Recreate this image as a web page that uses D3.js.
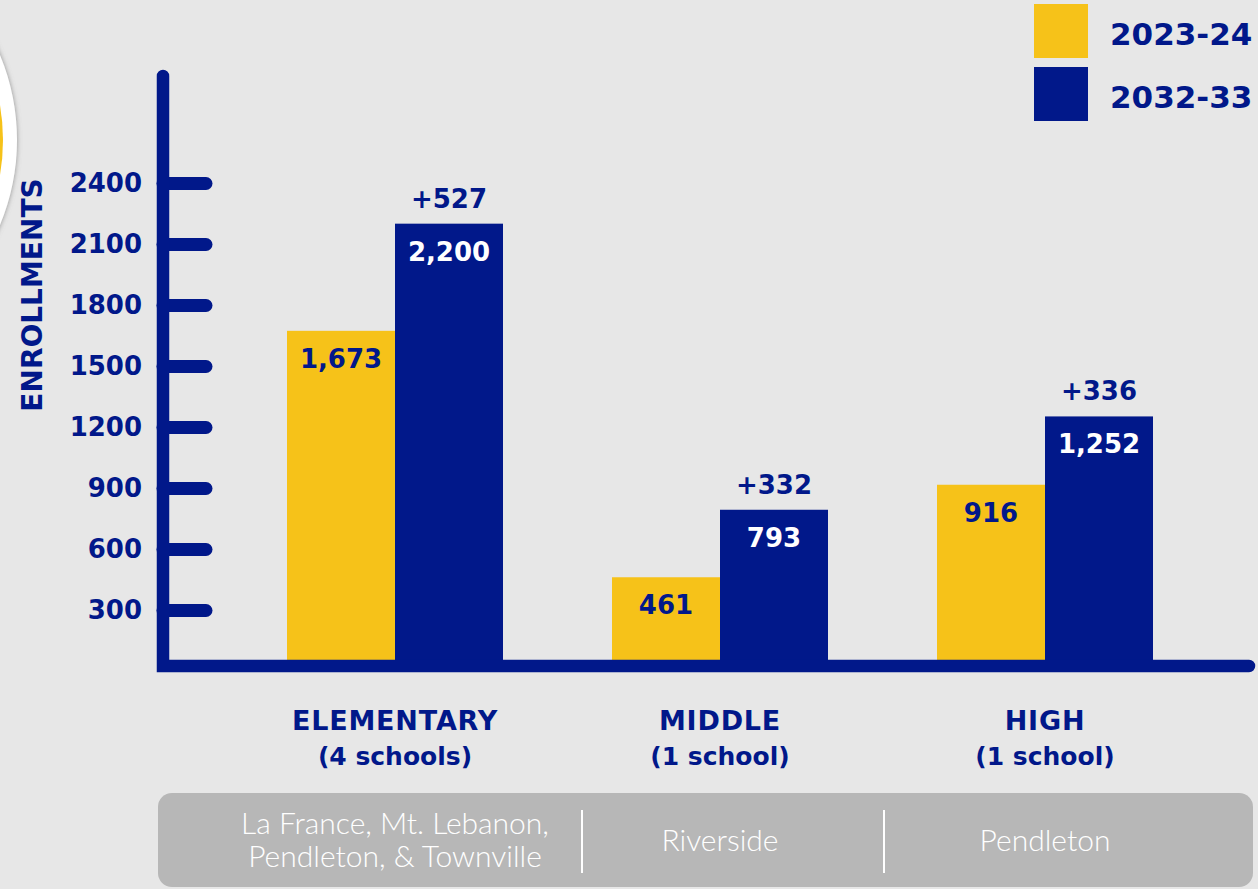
<!DOCTYPE html>
<html>
<head>
<meta charset="utf-8">
<script src="https://cdn.jsdelivr.net/npm/d3@7"></script>
<style>
  html, body { margin: 0; padding: 0; background: #e7e7e7; }
  svg { display: block; }
</style>
</head>
<body>
<svg id="chart" width="1258" height="889"></svg>
<script>
// données
var categories = ["ELEMENTARY", "MIDDLE", "HIGH"];
var subLabels = ["(4 schools)", "(1 school)", "(1 school)"];
var schools = [["La France, Mt. Lebanon,", "Pendleton, & Townville"], ["Riverside"], ["Pendleton"]];
var series = ["2023-24", "2032-33"];
var values2023 = [1673, 461, 916];
var values2032 = [2200, 793, 1252];
var changes = ["+527", "+332", "+336"];
var yTicks = [300, 600, 900, 1200, 1500, 1800, 2100, 2400];

var navy = "#01188a";
var yellow = "#f6c219";
var bold = "'DejaVu Sans', sans-serif";

var svg = d3.select("#chart");

// fond
svg.append("rect").attr("width", 1258).attr("height", 889).attr("fill", "#e7e7e7");

// cercle décoratif en haut à gauche
var defs = svg.append("defs");
var f = defs.append("filter").attr("id", "shadow").attr("x", "-20%").attr("y", "-20%").attr("width", "140%").attr("height", "140%");
f.append("feDropShadow").attr("dx", 0).attr("dy", 0).attr("stdDeviation", 2.5).attr("flood-color", "#777").attr("flood-opacity", 0.8);
svg.append("circle").attr("cx", -204).attr("cy", 140).attr("r", 221)
  .attr("fill", "#ffffff").attr("filter", "url(#shadow)");
svg.append("circle").attr("cx", -204).attr("cy", 140).attr("r", 207).attr("fill", yellow);

// échelles
var y = d3.scaleLinear().domain([0, 2400]).range([671, 183]);
var x = d3.scaleBand().domain(categories).range([232.5, 1207.5]).padding(0);
var xSub = d3.scaleBand().domain(series).range([-108, 108]).padding(0);
var color = d3.scaleOrdinal().domain(series).range([yellow, navy]);

var groups = svg.append("g").attr("class", "bars")
  .selectAll("g")
  .data(categories)
  .enter()
  .append("g")
  .attr("transform", function(d) { return "translate(" + (x(d) + x.bandwidth() / 2) + ",0)"; });

var rows = categories.map(function(c, i) {
  return [
    { key: series[0], value: values2023[i] },
    { key: series[1], value: values2032[i] }
  ];
});

groups.selectAll("rect")
  .data(function(d, i) { return rows[i]; })
  .enter()
  .append("rect")
  .attr("x", function(d) { return xSub(d.key); })
  .attr("width", xSub.bandwidth())
  .attr("y", function(d) { return y(d.value); })
  .attr("height", function(d) { return y(0) - y(d.value); })
  .attr("fill", function(d) { return color(d.key); });

// valeurs dans les barres
groups.selectAll("text.val")
  .data(function(d, i) { return rows[i]; })
  .enter()
  .append("text")
  .attr("class", "val")
  .attr("x", function(d) { return xSub(d.key) + xSub.bandwidth() / 2; })
  .attr("y", function(d) { return y(d.value) + 37; })
  .attr("text-anchor", "middle")
  .attr("font-family", bold)
  .attr("font-weight", "bold")
  .attr("font-size", "26px")
  .attr("fill", function(d) { return d.key === series[0] ? navy : "#ffffff"; })
  .text(function(d) { return d3.format(",")(d.value); });

// variation au-dessus de la barre bleue
groups.append("text")
  .attr("x", function() { return xSub(series[1]) + xSub.bandwidth() / 2; })
  .attr("y", function(d, i) { return y(values2032[i]) - 16; })
  .attr("text-anchor", "middle")
  .attr("font-family", bold)
  .attr("font-weight", "bold")
  .attr("font-size", "26px")
  .attr("fill", navy)
  .text(function(d, i) { return changes[i]; });

// libellés des catégories
groups.append("text")
  .attr("y", 730)
  .attr("text-anchor", "middle")
  .attr("font-family", bold)
  .attr("font-weight", "bold")
  .attr("font-size", "27px")
  .attr("letter-spacing", "0.8px")
  .attr("fill", navy)
  .text(function(d) { return d; });

groups.append("text")
  .attr("y", 765)
  .attr("text-anchor", "middle")
  .attr("font-family", bold)
  .attr("font-weight", "bold")
  .attr("font-size", "25px")
  .attr("fill", navy)
  .text(function(d, i) { return subLabels[i]; });

// axe Y
var yAxis = d3.axisLeft(y)
  .tickValues(yTicks)
  .tickSizeInner(-43)
  .tickSizeOuter(0)
  .tickPadding(21)
  .tickFormat(d3.format("d"));

var axisG = svg.append("g")
  .attr("transform", "translate(163,0)")
  .call(yAxis);
axisG.select(".domain").remove();
axisG.selectAll(".tick line")
  .attr("stroke", navy)
  .attr("stroke-width", 13)
  .attr("stroke-linecap", "round");
axisG.selectAll(".tick text")
  .attr("fill", navy)
  .attr("font-family", bold)
  .attr("font-weight", "bold")
  .attr("font-size", "26px");

// lignes des axes
svg.append("path")
  .attr("d", "M163,76 V666 H1249")
  .attr("fill", "none")
  .attr("stroke", navy)
  .attr("stroke-width", 12.5)
  .attr("stroke-linecap", "round")
  .attr("stroke-linejoin", "miter");

// titre de l'axe
svg.append("text")
  .attr("transform", "translate(42,295) rotate(-90)")
  .attr("text-anchor", "middle")
  .attr("font-family", bold)
  .attr("font-weight", "bold")
  .attr("font-size", "28px")
  .attr("fill", navy)
  .text("ENROLLMENTS");

// légende
var legend = svg.append("g").selectAll("g")
  .data(series)
  .enter()
  .append("g")
  .attr("transform", function(d, i) { return "translate(1034," + (4 + i * 63) + ")"; });
legend.append("rect")
  .attr("width", 54)
  .attr("height", 54)
  .attr("fill", function(d) { return color(d); });
legend.append("text")
  .attr("x", 76)
  .attr("y", 41)
  .attr("font-family", bold)
  .attr("font-weight", "bold")
  .attr("font-size", "31px")
  .attr("fill", navy)
  .text(function(d) { return d; });

// bandeau gris des écoles
svg.append("rect")
  .attr("x", 158).attr("y", 793)
  .attr("width", 1095).attr("height", 94)
  .attr("rx", 14)
  .attr("fill", "#b7b7b7");

[582, 884].forEach(function(px) {
  svg.append("line")
    .attr("x1", px).attr("x2", px)
    .attr("y1", 810).attr("y2", 873)
    .attr("stroke", "#ffffff")
    .attr("stroke-width", 2);
});

var schoolText = svg.append("g").selectAll("text")
  .data(categories)
  .enter()
  .append("text")
  .attr("x", function(d) { return x(d) + x.bandwidth() / 2; })
  .attr("text-anchor", "middle")
  .attr("font-family", "Lato, 'Open Sans', sans-serif")
  .attr("font-weight", 300)
  .attr("font-size", "30px")
  .attr("fill", "#ffffff");

schoolText.each(function(d, i) {
  var lines = schools[i];
  var t = d3.select(this);
  var startY = lines.length === 1 ? 851 : 834;
  lines.forEach(function(line, j) {
    t.append("tspan")
      .attr("x", x(d) + x.bandwidth() / 2)
      .attr("y", startY + j * 33)
      .text(line);
  });
});
</script>
</body>
</html>
